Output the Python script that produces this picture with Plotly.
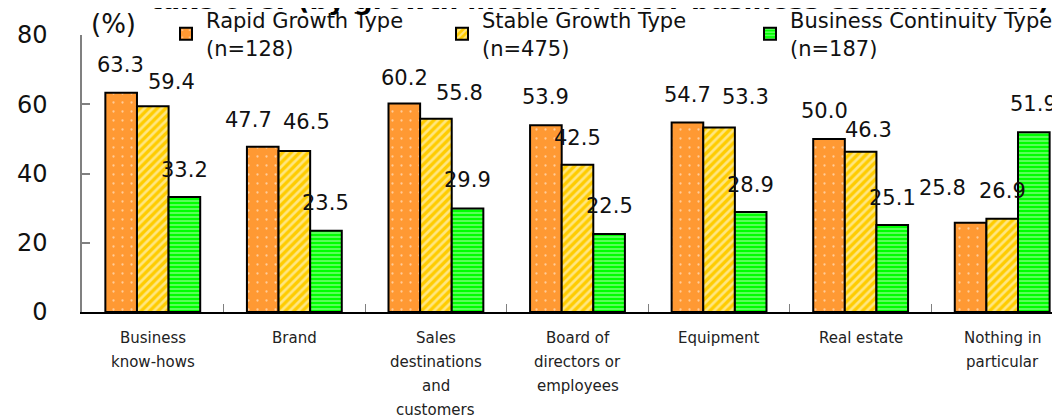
import plotly.graph_objects as go

# ---------------- data ----------------
categories = [
    "Business<br>know-hows",
    "Brand",
    "Sales<br>destinations<br>and<br>customers",
    "Board of<br>directors or<br>employees",
    "Equipment",
    "Real estate",
    "Nothing in<br>particular",
]
rapid = [63.3, 47.7, 60.2, 53.9, 54.7, 50.0, 25.8]
stable = [59.4, 46.5, 55.8, 42.5, 53.3, 46.3, 26.9]
continuity = [33.2, 23.5, 29.9, 22.5, 28.9, 25.1, 51.9]
series_names = [
    "Rapid Growth Type<br>(n=128)",
    "Stable Growth Type<br>(n=475)",
    "Business Continuity Type<br>(n=187)",
]
y_ticks = [0, 20, 40, 60, 80]
title_text = "take over (by growth intention after business establishment)"
unit_label = "(%)"

# ---------------- styling / layout constants ----------------
FONT = "DejaVu Sans"
W, H = 1052, 410           # page adds an 8px body margin
ML, MT, MB = 74, 27, 106
PLOT_W = W - ML
PLOT_H = H - MT - MB
CAT_PX = 141.57            # pixel width of one category slot
BARGAP = 0.33
x_end = -0.5 + PLOT_W / CAT_PX
bar_px = CAT_PX * (1 - BARGAP) / 3

colors = ["#FF9933", "#FFCC00", "#00FF00"]
patterns = [
    dict(shape=".", fgcolor="white", bgcolor="#FF9933", size=9, solidity=0.05),
    dict(shape="/", fgcolor="white", bgcolor="#FFCC00", size=6, solidity=0.45),
    dict(shape="-", fgcolor="white", bgcolor="#00FF00", size=4, solidity=0.35),
]
legend_ids = ["legend", "legend2", "legend3"]
legend_left_px = [158, 434, 742]

# per-label pixel offsets (dx, dy) of the value labels, as placed in the original
label_dx = [
    [-1, -14, 0, 0, 0, -5, -28],
    [19, 12, 24, 0, 26, 8, 0],
    [0, 0, 0, 0, 0, 0, 0],
]
label_dy = [
    [28, 27, 26, 28, 28, 28, 35],
    [24, 29, 26, 27, 30, 22, 28],
    [27, 28, 28, 28, 27, 27, 28],
]

fig = go.Figure()
all_series = [rapid, stable, continuity]
for i, (vals, name) in enumerate(zip(all_series, series_names)):
    fig.add_trace(go.Bar(
        x=categories, y=vals, name=name,
        marker=dict(color=colors[i], pattern=patterns[i],
                    line=dict(color="black", width=2)),
        legend=legend_ids[i],
        hoverinfo="x+y",
    ))

annotations = []
# value labels
for i, vals in enumerate(all_series):
    for j, v in enumerate(vals):
        annotations.append(dict(
            x=categories[j], y=v, xref="x", yref="y",
            text=f"{v:.1f}", showarrow=False,
            xanchor="center", yanchor="middle",
            xshift=(i - 1) * bar_px + label_dx[i][j], yshift=label_dy[i][j],
            font=dict(family=FONT, size=21, color="#111111"),
        ))

# category labels (one annotation per line for the original line spacing)
for c in categories:
    for k, line in enumerate(c.split("<br>")):
        annotations.append(dict(
            x=c, y=0, xref="x", yref="paper",
            text=line, showarrow=False,
            xanchor="center", yanchor="middle",
            yshift=-(25.5 + 24 * k),
            font=dict(family=FONT, size=15, color="#222222"),
        ))

# unit label
annotations.append(dict(
    x=(105 - ML) / PLOT_W, y=1, xref="paper", yref="paper",
    text=unit_label, showarrow=False, xanchor="center", yanchor="middle",
    yshift=MT - 16, font=dict(family=FONT, size=26, color="#111111"),
))
# title (partially cut at top, as in the original)
annotations.append(dict(
    x=(592 - ML) / PLOT_W, y=1, xref="paper", yref="paper",
    text=f"<b>{title_text}</b>", showarrow=False, xanchor="center", yanchor="middle",
    yshift=MT + 8, font=dict(family=FONT, size=26, color="#000000"),
))

legend_common = dict(
    orientation="v", xanchor="left", yanchor="middle",
    y=(H - MB - 26) / PLOT_H,
    font=dict(family=FONT, size=21, color="#111111"),
    bgcolor="rgba(0,0,0,0)", borderwidth=0, itemclick=False, itemdoubleclick=False,
)

fig.update_layout(
    width=W, height=H,
    margin=dict(l=ML, r=0, t=MT, b=MB, autoexpand=False),
    paper_bgcolor="white", plot_bgcolor="white",
    barmode="group", bargap=BARGAP, bargroupgap=0,
    font=dict(family=FONT, color="#111111"),
    showlegend=True,
    annotations=annotations,
    xaxis=dict(
        type="category", range=[-0.5, x_end],
        showline=True, linecolor="black", linewidth=1.5,
        ticks="inside", tickson="boundaries", ticklen=8,
        tickcolor="#808080", tickwidth=1,
        showticklabels=False, showgrid=False, zeroline=False, fixedrange=True,
    ),
    yaxis=dict(
        range=[0, 80], tickmode="array", tickvals=y_ticks,
        showline=True, linecolor="#808080", linewidth=1.5,
        ticks="inside", ticklen=8, tickcolor="#808080", tickwidth=1.5,
        tickfont=dict(family=FONT, size=24, color="#111111"),
        ticklabelstandoff=28,
        showgrid=False, zeroline=False, fixedrange=True,
    ),
)
for lid, px in zip(legend_ids, legend_left_px):
    fig.update_layout({lid: dict(legend_common, x=(px - ML) / PLOT_W)})

fig.write_html("out.html")
